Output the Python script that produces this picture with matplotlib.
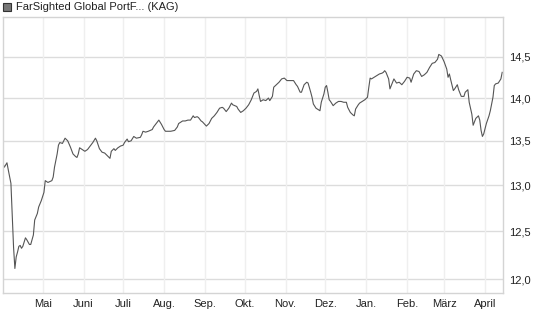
#!/usr/bin/env python3
"""Fund price chart: FarSighted Global PortF... (KAG), one year, log scale."""

import matplotlib
matplotlib.use('Agg')
import matplotlib.pyplot as plt
import matplotlib.dates as mdates
from matplotlib.patches import Rectangle
from matplotlib.ticker import FixedLocator, FuncFormatter, NullLocator
import pandas as pd

matplotlib.rcParams['font.family'] = ['Liberation Sans', 'DejaVu Sans']
matplotlib.rcParams['font.size'] = 8

# Data
dates = [
    '2025-04-01', '2025-04-02', '2025-04-04', '2025-04-05', '2025-04-07', '2025-04-08',
    '2025-04-09', '2025-04-10', '2025-04-11', '2025-04-12', '2025-04-13', '2025-04-14',
    '2025-04-15', '2025-04-16', '2025-04-18', '2025-04-19', '2025-04-21', '2025-04-22',
    '2025-04-24', '2025-04-25', '2025-04-27', '2025-04-28', '2025-04-30', '2025-05-02',
    '2025-05-03', '2025-05-05', '2025-05-08', '2025-05-09', '2025-05-10', '2025-05-12',
    '2025-05-13', '2025-05-14', '2025-05-16', '2025-05-18', '2025-05-20', '2025-05-22',
    '2025-05-24', '2025-05-26', '2025-05-27', '2025-05-28', '2025-05-29', '2025-05-31',
    '2025-06-02', '2025-06-04', '2025-06-06', '2025-06-08', '2025-06-10', '2025-06-11',
    '2025-06-13', '2025-06-15', '2025-06-17', '2025-06-19', '2025-06-21', '2025-06-22',
    '2025-06-24', '2025-06-25', '2025-06-27', '2025-06-29', '2025-07-01', '2025-07-02',
    '2025-07-04', '2025-07-05', '2025-07-07', '2025-07-09', '2025-07-11', '2025-07-14',
    '2025-07-15', '2025-07-16', '2025-07-18', '2025-07-20', '2025-07-23', '2025-07-24',
    '2025-07-26', '2025-07-28', '2025-07-30', '2025-08-01', '2025-08-02', '2025-08-06',
    '2025-08-09', '2025-08-11', '2025-08-12', '2025-08-15', '2025-08-17', '2025-08-19',
    '2025-08-21', '2025-08-23', '2025-08-24', '2025-08-26', '2025-08-27', '2025-08-29',
    '2025-08-30', '2025-09-02', '2025-09-04', '2025-09-06', '2025-09-08', '2025-09-10',
    '2025-09-12', '2025-09-14', '2025-09-15', '2025-09-17', '2025-09-19', '2025-09-21',
    '2025-09-22', '2025-09-25', '2025-09-26', '2025-09-28', '2025-09-30', '2025-10-02',
    '2025-10-04', '2025-10-06', '2025-10-08', '2025-10-10', '2025-10-11', '2025-10-12',
    '2025-10-13', '2025-10-15', '2025-10-17', '2025-10-19', '2025-10-20', '2025-10-22',
    '2025-10-23', '2025-10-25', '2025-10-27', '2025-10-29', '2025-10-31', '2025-11-02',
    '2025-11-04', '2025-11-07', '2025-11-09', '2025-11-10', '2025-11-12', '2025-11-13',
    '2025-11-15', '2025-11-17', '2025-11-18', '2025-11-20', '2025-11-21', '2025-11-22',
    '2025-11-24', '2025-11-25', '2025-11-27', '2025-11-28', '2025-11-30', '2025-12-01',
    '2025-12-02', '2025-12-03', '2025-12-04', '2025-12-05', '2025-12-07', '2025-12-09',
    '2025-12-11', '2025-12-13', '2025-12-15', '2025-12-17', '2025-12-18', '2025-12-20',
    '2025-12-22', '2025-12-23', '2025-12-24', '2025-12-26', '2025-12-27', '2025-12-29',
    '2025-12-31', '2026-01-02', '2026-01-03', '2026-01-04', '2026-01-05', '2026-01-07',
    '2026-01-09', '2026-01-11', '2026-01-13', '2026-01-14', '2026-01-15', '2026-01-16',
    '2026-01-18', '2026-01-19', '2026-01-21', '2026-01-22', '2026-01-24', '2026-01-26',
    '2026-01-28', '2026-01-30', '2026-02-01', '2026-02-03', '2026-02-04', '2026-02-06',
    '2026-02-08', '2026-02-10', '2026-02-12', '2026-02-14', '2026-02-16', '2026-02-18',
    '2026-02-20', '2026-02-22', '2026-02-24', '2026-02-25', '2026-02-27', '2026-03-01',
    '2026-03-03', '2026-03-04', '2026-03-05', '2026-03-06', '2026-03-08', '2026-03-09',
    '2026-03-11', '2026-03-12', '2026-03-14', '2026-03-16', '2026-03-17', '2026-03-19',
    '2026-03-20', '2026-03-22', '2026-03-23', '2026-03-24', '2026-03-25', '2026-03-27',
    '2026-03-28', '2026-03-29', '2026-03-30', '2026-03-31', '2026-04-02', '2026-04-04',
    '2026-04-05', '2026-04-07', '2026-04-08', '2026-04-09', '2026-04-11', '2026-04-13',
    '2026-04-14',
]
prices = [
    13.24, 13.20, 13.25, 13.17, 13.02, 12.66,
    12.33, 12.11, 12.23, 12.28, 12.34, 12.35,
    12.32, 12.34, 12.43, 12.41, 12.36, 12.36,
    12.46, 12.62, 12.69, 12.76, 12.83, 12.92,
    13.05, 13.03, 13.05, 13.09, 13.20, 13.35,
    13.45, 13.48, 13.47, 13.53, 13.50, 13.43,
    13.35, 13.32, 13.31, 13.35, 13.42, 13.40,
    13.38, 13.40, 13.44, 13.48, 13.53, 13.50,
    13.41, 13.37, 13.36, 13.33, 13.30, 13.38,
    13.41, 13.39, 13.42, 13.44, 13.45, 13.48,
    13.52, 13.49, 13.50, 13.55, 13.53, 13.54,
    13.57, 13.61, 13.60, 13.61, 13.63, 13.66,
    13.70, 13.74, 13.69, 13.63, 13.61, 13.61,
    13.62, 13.66, 13.70, 13.73, 13.73, 13.74,
    13.74, 13.79, 13.77, 13.78, 13.77, 13.73,
    13.72, 13.67, 13.70, 13.76, 13.79, 13.83,
    13.88, 13.89, 13.88, 13.84, 13.88, 13.94,
    13.92, 13.90, 13.87, 13.83, 13.85, 13.88,
    13.92, 13.98, 14.06, 14.08, 14.11, 14.03,
    13.96, 13.98, 13.97, 14.00, 13.97, 14.02,
    14.13, 14.16, 14.19, 14.23, 14.24, 14.21,
    14.21, 14.21, 14.16, 14.14, 14.07, 14.07,
    14.16, 14.19, 14.18, 14.07, 14.01, 13.93,
    13.88, 13.87, 13.85, 13.95, 14.05, 14.13,
    14.15, 14.07, 13.98, 13.96, 13.91, 13.94,
    13.96, 13.96, 13.95, 13.95, 13.89, 13.83,
    13.80, 13.79, 13.87, 13.92, 13.94, 13.96,
    13.98, 14.01, 14.13, 14.24, 14.23, 14.25,
    14.27, 14.29, 14.30, 14.31, 14.33, 14.31,
    14.23, 14.11, 14.19, 14.23, 14.18, 14.19,
    14.16, 14.20, 14.25, 14.24, 14.19, 14.29,
    14.33, 14.32, 14.26, 14.28, 14.31, 14.37,
    14.42, 14.43, 14.47, 14.53, 14.51, 14.44,
    14.35, 14.25, 14.29, 14.22, 14.09, 14.11,
    14.16, 14.10, 14.02, 14.02, 14.07, 14.10,
    13.95, 13.81, 13.68, 13.72, 13.76, 13.79,
    13.74, 13.62, 13.55, 13.58, 13.70, 13.79,
    13.85, 14.01, 14.15, 14.17, 14.18, 14.23,
    14.31,
]

month_starts = ['2025-05-01', '2025-06-01', '2025-07-01', '2025-08-01', '2025-09-01',
                '2025-10-01', '2025-11-01', '2025-12-01', '2026-01-01', '2026-02-01',
                '2026-03-01', '2026-04-01']
month_labels = ['Mai', 'Juni', 'Juli', 'Aug.', 'Sep.', 'Okt.', 'Nov.', 'Dez.',
                'Jan.', 'Feb.', 'März', 'April']
y_ticks = [12.0, 12.5, 13.0, 13.5, 14.0, 14.5]
title = 'FarSighted Global PortF... (KAG)'

x = pd.to_datetime(dates)

fig = plt.figure(figsize=(5.45, 3.27), dpi=100)
ax = fig.add_axes([0.0055, 0.104, 0.918, 0.844])

ax.plot(x, prices, color='#555555', linewidth=0.8)

ax.set_yscale('log')
ax.set_ylim(11.86, 15.0)
ax.yaxis.set_major_locator(FixedLocator(y_ticks))
ax.yaxis.set_minor_locator(NullLocator())
ax.yaxis.set_major_formatter(FuncFormatter(lambda v, p: f'{v:.1f}'.replace('.', ',')))
ax.yaxis.tick_right()

ax.set_xlim(pd.Timestamp('2025-04-01'), pd.Timestamp('2026-04-14 20:00'))
ax.set_xticks(pd.to_datetime(month_starts))
ax.set_xticklabels(month_labels)

ax.tick_params(axis='both', length=0, labelsize=8, colors='#222222')
ax.tick_params(axis='y', pad=4)
ax.tick_params(axis='x', pad=4)

# horizontal grid a bit stronger than the vertical one
for v in y_ticks:
    ax.axhline(v, color='#dcdcdc', linewidth=1.0, zorder=0)
for m in pd.to_datetime(month_starts):
    ax.axvline(m, color='#efefef', linewidth=1.0, zorder=0)

for s in ax.spines.values():
    s.set_color('#d4d4d4')
    s.set_linewidth(1.0)

# legend-like header
fig.patches.append(Rectangle((3 / 545, 1 - 11 / 327), 8 / 545, 8 / 327,
                             transform=fig.transFigure, facecolor='#777777',
                             edgecolor='#333333', linewidth=0.8))
fig.text(16 / 545, 1 - 7 / 327, title, ha='left', va='center', fontsize=8,
         color='#222222')

fig.savefig('out.png', dpi=100, facecolor='white')
print("Saved figure")
